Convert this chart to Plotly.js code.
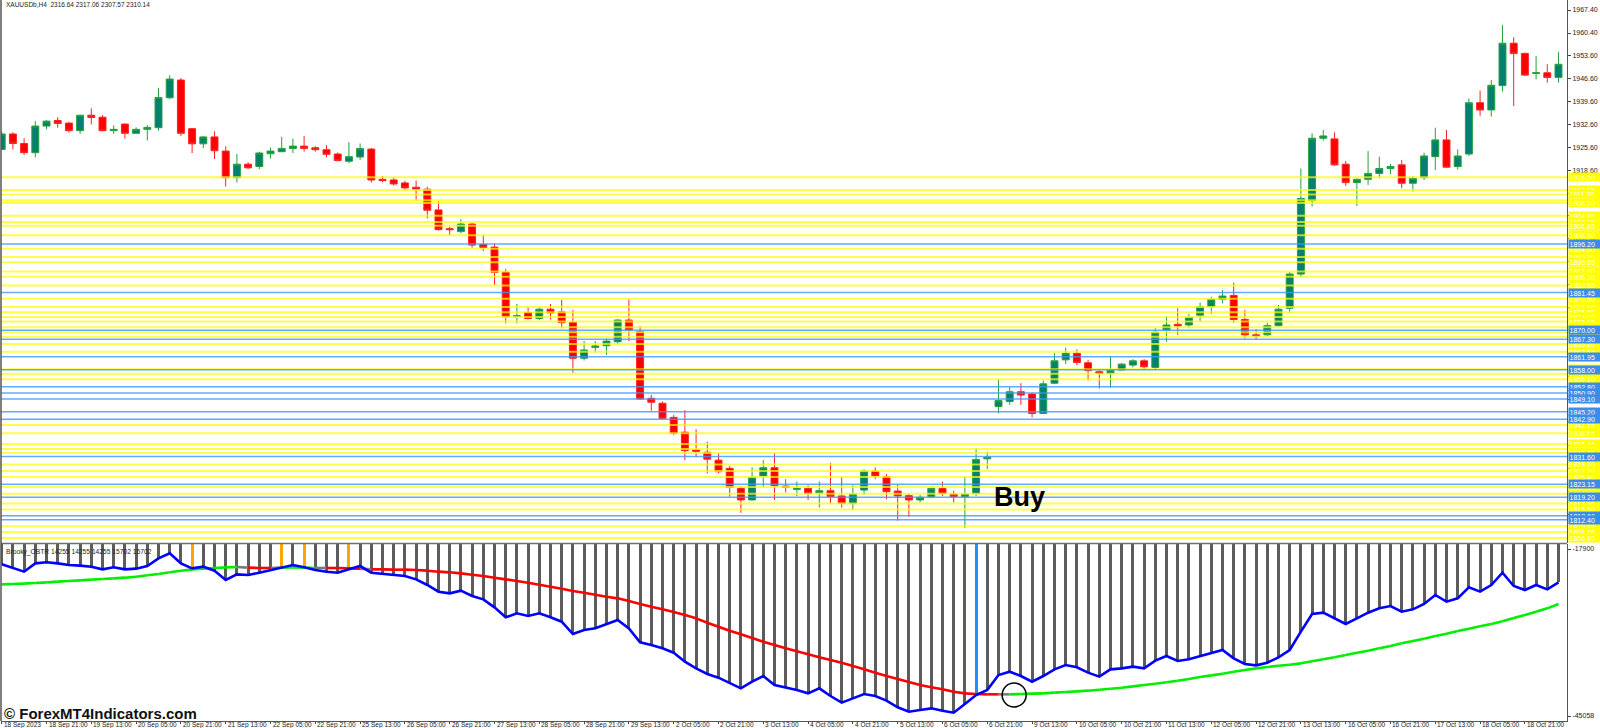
<!DOCTYPE html>
<html><head><meta charset="utf-8">
<script src="https://cdn.plot.ly/plotly-3.0.1.min.js"></script>
<style>html,body{margin:0;padding:0;background:#fff;overflow:hidden}#chart{width:1600px;height:728px}</style>
</head><body><div id="chart"></div>
<script>
const headerText = "XAUUSDb,H4  2316.64 2317.06 2307.57 2310.14";
const indicatorText = "Brooky_OBTR 14255 14255 14255 15702 15702";
const watermarkText = "© ForexMT4Indicators.com";

const timeLabels = ["18 Sep 2023","18 Sep 21:00","19 Sep 13:00","20 Sep 05:00","20 Sep 21:00","21 Sep 13:00","22 Sep 05:00","22 Sep 21:00","25 Sep 13:00","26 Sep 05:00","26 Sep 21:00","27 Sep 13:00","28 Sep 05:00","28 Sep 21:00","29 Sep 13:00","2 Oct 05:00","2 Oct 21:00","3 Oct 13:00","4 Oct 05:00","4 Oct 21:00","5 Oct 13:00","6 Oct 05:00","6 Oct 21:00","9 Oct 13:00","10 Oct 05:00","10 Oct 21:00","11 Oct 13:00","12 Oct 05:00","12 Oct 21:00","13 Oct 13:00","16 Oct 05:00","16 Oct 21:00","17 Oct 13:00","18 Oct 05:00","18 Oct 21:00"];
const barsPerLabel = 4;

const opens = [1925.0,1929.7,1926.8,1924.0,1932.1,1933.8,1933.0,1930.7,1935.4,1934.8,
1930.7,1932.7,1929.9,1931.1,1931.6,1940.7,1946.1,1931.3,1926.7,1928.8,
1924.5,1916.4,1920.5,1919.8,1923.7,1924.3,1925.3,1926.0,1925.5,1924.9,
1923.6,1921.4,1922.7,1925.1,1915.9,1915.7,1914.8,1913.5,1912.9,1906.6,
1900.9,1900.0,1902.3,1896.1,1895.3,1887.7,1874.2,1875.4,1873.6,1876.4,
1875.6,1872.4,1861.5,1864.8,1865.3,1866.5,1873.1,1869.6,1849.3,1847.8,
1843.5,1839.0,1833.6,1832.9,1830.5,1828.0,1821.9,1818.4,1825.7,1828.2,
1822.6,1821.6,1821.9,1820.6,1821.2,1819.6,1817.4,1821.4,1827.2,1825.5,
1821.1,1819.7,1818.4,1819.4,1821.9,1820.2,1819.4,1820.4,1830.9,1846.8,
1848.3,1851.3,1850.6,1844.7,1853.9,1861.0,1863.0,1860.1,1857.4,1856.9,
1857.9,1859.4,1860.7,1858.7,1870.1,1871.8,1871.6,1874.6,1877.2,1879.4,
1880.6,1873.3,1868.6,1868.6,1871.4,1876.7,1887.1,1909.4,1928.4,1928.2,
1920.5,1914.9,1915.9,1917.7,1919.2,1920.3,1914.7,1916.4,1922.8,1927.9,
1919.8,1923.6,1939.2,1937.0,1944.4,1957.3,1954.2,1948.1,1948.3,1946.9];
const highs = [1930.4,1930.2,1928.4,1933.6,1933.9,1934.8,1933.4,1935.5,1937.5,1935.4,
1932.3,1932.9,1931.7,1932.4,1943.7,1947.6,1946.7,1931.5,1929.0,1930.5,
1925.9,1923.6,1921.1,1924.3,1925.6,1928.8,1928.3,1929.1,1926.0,1926.3,
1924.1,1927.2,1926.8,1925.5,1916.9,1916.4,1915.4,1915.5,1913.6,1909.2,
1901.5,1903.8,1902.5,1899.0,1896.4,1888.6,1878.0,1877.0,1877.0,1878.0,
1879.2,1876.2,1866.7,1866.7,1867.5,1873.4,1879.4,1871.3,1850.3,1848.3,
1844.2,1845.7,1839.9,1836.1,1832.6,1828.7,1822.6,1828.3,1830.5,1832.6,
1824.7,1824.0,1822.9,1824.0,1829.7,1825.5,1822.9,1827.7,1828.3,1826.3,
1823.2,1820.4,1819.9,1822.4,1824.0,1821.2,1825.5,1834.1,1833.1,1855.1,
1852.8,1853.9,1851.0,1854.7,1863.0,1864.7,1864.2,1861.0,1857.9,1862.2,
1860.1,1861.2,1861.2,1870.6,1874.3,1876.7,1874.9,1878.4,1880.2,1882.2,
1884.5,1876.2,1870.3,1872.3,1877.7,1887.8,1919.2,1929.9,1930.9,1930.2,
1921.5,1916.2,1924.5,1922.8,1920.6,1921.8,1916.9,1924.0,1931.6,1930.9,
1925.0,1940.5,1942.9,1946.1,1962.8,1959.1,1954.4,1953.4,1950.9,1954.7];
const lows = [1924.8,1925.0,1923.3,1922.6,1931.1,1931.6,1930.1,1929.7,1932.6,1930.5,
1929.7,1928.3,1929.7,1927.7,1930.7,1940.3,1929.1,1923.9,1925.4,1922.1,
1913.7,1914.9,1919.0,1919.0,1922.2,1924.2,1923.9,1924.3,1924.3,1922.6,
1921.4,1920.8,1921.8,1914.9,1915.0,1914.0,1912.7,1909.4,1904.1,1900.3,
1898.8,1899.5,1895.1,1894.1,1883.8,1872.1,1872.1,1873.3,1873.1,1873.3,
1870.6,1857.1,1860.8,1863.2,1862.5,1865.7,1866.7,1848.8,1845.5,1842.9,
1838.1,1830.5,1831.4,1826.5,1826.5,1819.4,1814.5,1818.2,1822.2,1818.4,
1820.7,1819.6,1818.4,1816.1,1817.2,1816.1,1815.3,1819.9,1824.7,1818.6,
1812.1,1813.3,1817.6,1818.9,1819.6,1817.6,1809.8,1819.6,1827.8,1844.7,
1847.3,1847.3,1843.5,1844.5,1853.6,1859.7,1859.4,1854.7,1852.3,1852.6,
1857.7,1858.7,1857.9,1857.9,1866.5,1868.6,1870.6,1872.6,1874.9,1878.2,
1872.3,1867.5,1867.2,1868.3,1871.1,1875.2,1886.3,1907.6,1927.7,1920.0,
1913.9,1907.8,1914.2,1916.2,1917.5,1913.2,1912.2,1915.7,1918.7,1919.3,
1918.9,1923.0,1935.2,1935.0,1942.6,1938.2,1947.3,1946.3,1945.3,1945.3];
const closes = [1929.7,1926.8,1924.0,1932.1,1933.6,1932.9,1930.7,1935.4,1934.7,1930.7,
1931.1,1929.9,1931.1,1931.7,1940.8,1946.4,1929.9,1926.7,1928.8,1924.6,
1916.4,1920.5,1919.4,1923.9,1924.5,1925.3,1926.0,1925.3,1924.9,1923.5,
1921.6,1922.8,1925.3,1915.7,1915.5,1914.5,1913.3,1912.9,1906.5,1900.6,
1900.6,1902.3,1895.9,1895.2,1887.6,1874.1,1874.4,1873.6,1876.4,1875.3,
1872.3,1861.5,1864.0,1865.2,1866.7,1873.1,1870.1,1849.1,1848.1,1843.2,
1838.7,1833.4,1833.2,1830.8,1827.0,1822.2,1818.4,1825.3,1828.2,1822.7,
1822.2,1821.9,1820.4,1821.2,1819.4,1817.4,1820.2,1827.2,1825.7,1820.9,
1819.6,1818.4,1819.2,1821.9,1820.4,1819.4,1820.2,1830.7,1831.4,1848.6,
1851.3,1850.3,1844.7,1853.7,1860.7,1863.0,1860.2,1857.7,1856.9,1857.9,
1859.7,1860.7,1858.9,1869.4,1871.6,1871.3,1873.9,1877.2,1879.4,1880.4,
1873.3,1868.6,1868.3,1871.4,1876.4,1887.1,1910.1,1928.4,1929.1,1920.3,
1914.9,1915.9,1917.7,1919.2,1919.8,1914.7,1916.2,1923.0,1927.9,1919.6,
1923.0,1939.2,1937.0,1944.5,1957.3,1954.2,1947.6,1948.3,1946.9,1950.9];

const obtrValues = [-20394,-21044,-21586,-20231,-20068,-20231,-20502,-20610,-20773,-21207,
-20881,-21207,-21098,-20665,-19418,-18605,-20231,-21044,-20773,-21423,
-22941,-22020,-22128,-21749,-21315,-20881,-20502,-20881,-21315,-21586,
-21749,-21207,-20665,-21749,-21965,-22128,-22291,-22833,-23754,-24838,
-25109,-24675,-25543,-26085,-27385,-29011,-28361,-28795,-28361,-29011,
-29716,-31721,-31071,-30800,-30150,-29445,-30800,-33076,-33510,-34052,
-34757,-36220,-37304,-38225,-38822,-39743,-40556,-39472,-38551,-40014,
-40393,-40827,-41369,-40556,-41803,-42887,-42182,-41477,-41803,-42561,
-43645,-44350,-44079,-43808,-44187,-44513,-43103,-41640,-40827,-38388,
-37846,-38551,-39472,-38551,-37467,-36762,-37141,-38009,-38659,-37467,
-37304,-37033,-37304,-36057,-35299,-36112,-35841,-35299,-34757,-34323,
-35678,-36599,-36816,-36383,-35515,-34323,-31342,-28469,-28253,-29174,
-30095,-29174,-28253,-27548,-27169,-28090,-27711,-26843,-25380,-26464,
-25922,-24133,-24838,-23754,-21749,-23917,-24567,-23754,-24459,-23320];
const signalValues = [-23646,-23591,-23537,-23429,-23320,-23212,-23104,-22995,-22887,-22778,
-22670,-22562,-22399,-22182,-21965,-21694,-21423,-21207,-21098,-20990,
-20881,-20827,-20936,-20990,-20990,-20936,-20881,-20936,-20990,-20990,
-20990,-21044,-21098,-21207,-21207,-21261,-21261,-21315,-21423,-21586,
-21694,-21857,-22074,-22291,-22562,-22833,-23104,-23375,-23700,-24025,
-24350,-24730,-25001,-25326,-25651,-25922,-26356,-26843,-27277,-27711,
-28144,-28632,-29174,-29879,-30529,-31179,-31776,-32372,-32968,-33510,
-34052,-34540,-35028,-35515,-35949,-36383,-36925,-37467,-38009,-38551,
-39038,-39526,-40014,-40393,-40719,-41098,-41369,-41477,-41532,-41532,
-41532,-41477,-41423,-41369,-41261,-41152,-41044,-40935,-40773,-40610,
-40448,-40231,-40014,-39797,-39580,-39309,-39038,-38713,-38442,-38171,
-37846,-37575,-37304,-37087,-36870,-36708,-36491,-36166,-35841,-35515,
-35136,-34757,-34431,-34052,-33673,-33239,-32860,-32480,-32047,-31667,
-31234,-30854,-30475,-30095,-29662,-29120,-28632,-28090,-27548,-26843];
// G = rising (green), R = falling (red), N = neutral (gray); one letter per bar segment
const signalStates = "G".repeat(21) + "N" + "RR" + "N" + "GGG" + "N" + "RRR" + "N" +
  "R".repeat(56) + "N" + "G".repeat(50);
const orangeBars = [17, 25, 27, 31];
const blueBar = 87;

const yellowLevels = [1916.50,1912.65,1911.30,1909.55,1908.70,1904.80,1902.95,1901.80,1898.90,1894.80,1892.30,1890.65,1887.90,1886.30,1883.65,1879.60,1877.10,1875.50,1874.00,1872.65,1870.95,1869.40,1868.05,1865.80,1863.50,1858.15,1856.75,1855.10,1841.15,1838.65,1835.40,1833.90,1832.70,1829.20,1827.20,1825.40,1822.30,1820.30,1817.30,1815.50,1810.40,1808.65,1806.80];
const blueLevels = [1896.20,1881.45,1870.00,1867.30,1861.95,1858.00,1852.80,1850.90,1849.10,1845.20,1842.90,1831.60,1823.15,1819.20,1813.60,1812.40];

const mainTicks = [1967.40,1960.40,1953.60,1946.60,1939.60,1932.60,1925.60,1918.60,1911.60,1904.80,1897.80,1890.80,1883.80,1876.80,1869.80,1862.80,1855.80,1848.80,1841.80,1835.00,1828.00,1821.00,1814.00];
const indTicks = [-17900, -45058];

const buyMarker = {bar: 88.4, price: 1819.3, text: "Buy"};
const circleMarker = {bar: 90.4, value: -41640};

// ---------- build ----------
const n = opens.length;
const idx = opens.map((_, i) => i);

const candles = {
  type: 'candlestick', x: idx, open: opens, high: highs, low: lows, close: closes,
  xaxis: 'x', yaxis: 'y', whiskerwidth: 0, hoverinfo: 'skip',
  increasing: {line: {color: '#23a23a', width: 1}, fillcolor: '#067f73'},
  decreasing: {line: {color: '#ff2222', width: 1}, fillcolor: '#ff0000'}
};

const barColors = idx.map(i => orangeBars.includes(i) ? '#ffa500' : (i === blueBar ? '#1e90ff' : '#5c5c5c'));
const hist = {type: 'bar', x: idx, y: obtrValues, xaxis: 'x', yaxis: 'y2', width: 0.27,
  marker: {color: barColors, line: {width: 0}}, hoverinfo: 'skip'};

const blueLine = {type: 'scatter', mode: 'lines', x: idx, y: obtrValues, xaxis: 'x', yaxis: 'y2',
  line: {color: '#0000ff', width: 2.6}, hoverinfo: 'skip'};

function segs(state) {
  const xs = [], ys = [];
  for (let i = 0; i < n - 1; i++) {
    if (signalStates[i] === state) { xs.push(i, i + 1, null); ys.push(signalValues[i], signalValues[i + 1], null); }
  }
  return {xs, ys};
}
const sigColors = {G: '#00ee00', R: '#ff0000', N: '#7a7a7a'};
const sigTraces = ['N', 'G', 'R'].map(s => {
  const g = segs(s);
  return {type: 'scatter', mode: 'lines', x: g.xs, y: g.ys, xaxis: 'x', yaxis: 'y2',
    line: {color: sigColors[s], width: 2.6}, connectgaps: false, hoverinfo: 'skip'};
});

// geometry
const W = 1600, H = 728;
const mL = 1, mR = 33, mT = 0, mB = 7;
const plotH = H - mT - mB;
const mainBottomPx = 543, indTopPx = 544;
const mainDomain = [(plotH - mainBottomPx) / plotH, 1];
const indDomain = [0, (plotH - indTopPx) / plotH];

const shapes = [];
yellowLevels.forEach(lv => shapes.push({type: 'line', xref: 'paper', x0: 0, x1: 1, yref: 'y', y0: lv, y1: lv,
  line: {color: 'rgba(255,255,0,0.72)', width: 2}, layer: 'above'}));
blueLevels.forEach(lv => shapes.push({type: 'line', xref: 'paper', x0: 0, x1: 1, yref: 'y', y0: lv, y1: lv,
  line: {color: 'rgba(60,150,255,0.8)', width: 1.5}, layer: 'above'}));
shapes.push({type: 'line', xref: 'paper', x0: 0, x1: 1, yref: 'paper', y0: (mainDomain[0] + indDomain[1]) / 2, y1: (mainDomain[0] + indDomain[1]) / 2,
  line: {color: '#6f6f6f', width: 1.5}, layer: 'above'});
shapes.push({type: 'line', xref: 'paper', x0: 0, x1: 0, yref: 'paper', y0: 0, y1: 1, line: {color: '#555', width: 1.5}, layer: 'above'});
shapes.push({type: 'circle', xref: 'x', yref: 'y2', xsizemode: 'pixel', ysizemode: 'pixel',
  xanchor: circleMarker.bar, yanchor: circleMarker.value, x0: -12, x1: 12, y0: -12, y1: 12,
  line: {color: '#000', width: 1.5}, layer: 'above'});

const fam = 'Liberation Sans, Arial, sans-serif';
const smallFont = {family: fam, size: 7, color: '#222'};
const annotations = [];
annotations.push({xref: 'paper', yref: 'paper', x: 0.002, y: 1, xanchor: 'left', yanchor: 'top', yshift: 1,
  text: headerText, showarrow: false, font: {family: fam, size: 6.5, color: '#222'}});
annotations.push({xref: 'paper', yref: 'paper', x: 0.002, y: indDomain[1], xanchor: 'left', yanchor: 'top', yshift: -2,
  text: indicatorText, showarrow: false, font: {family: fam, size: 6.7, color: '#222'}});
annotations.push({xref: 'x', yref: 'y', x: buyMarker.bar, y: buyMarker.price, xanchor: 'left', yanchor: 'middle',
  text: '<b>' + buyMarker.text + '</b>', showarrow: false, font: {family: fam, size: 27, color: '#000'}});
annotations.push({xref: 'paper', yref: 'paper', x: 0, y: 0, xanchor: 'left', yanchor: 'bottom', yshift: -3, xshift: 1,
  text: '<b>' + watermarkText + '</b>', showarrow: false, font: {family: fam, size: 15, color: '#111'}});
timeLabels.forEach((t, k) => annotations.push({xref: 'x', yref: 'paper', x: k * barsPerLabel, y: 0,
  xanchor: 'left', yanchor: 'top', xshift: 1, yshift: 1, borderpad: 0, text: t, showarrow: false,
  font: {family: fam, size: 6.5, color: '#222'}}));
function levelLabel(lv, bg) {
  return {xref: 'paper', yref: 'y', x: 1, y: lv, xanchor: 'left', yanchor: 'middle', xshift: 1,
    text: lv.toFixed(2), showarrow: false, bgcolor: bg, borderpad: 0.5, width: 31, height: 7, align: 'left',
    font: {family: fam, size: 7, color: '#ffffff'}};
}
yellowLevels.forEach(lv => annotations.push(levelLabel(lv, '#ffff00')));
blueLevels.forEach(lv => annotations.push(levelLabel(lv, '#3a8ee8')));

const layout = {
  width: W, height: H, margin: {l: mL, r: mR, t: mT, b: mB, pad: 0},
  paper_bgcolor: '#ffffff', plot_bgcolor: '#ffffff', showlegend: false, hovermode: false,
  boxgap: 0.38, boxgroupgap: 0, bargap: 0,
  xaxis: {anchor: 'y2', range: [-0.0625, 139.76], rangeslider: {visible: false}, showgrid: false, zeroline: false,
    showline: true, linecolor: '#555', linewidth: 1, ticks: 'outside', ticklen: 2, tickcolor: '#444',
    tickvals: timeLabels.map((_, k) => k * barsPerLabel), showticklabels: false, fixedrange: true},
  yaxis: {domain: mainDomain, anchor: 'x', side: 'right', range: [1805.30, 1970.44], showgrid: false, zeroline: false,
    showline: true, linecolor: '#555', linewidth: 1, ticks: 'outside', ticklen: 3, tickcolor: '#444',
    tickvals: mainTicks, ticktext: mainTicks.map(v => v.toFixed(2)), tickfont: smallFont, fixedrange: true},
  yaxis2: {domain: indDomain, anchor: 'x', side: 'right', range: [-45867, -17087], showgrid: false, zeroline: false,
    showline: true, linecolor: '#555', linewidth: 1, ticks: 'outside', ticklen: 3, tickcolor: '#444',
    tickvals: indTicks, ticktext: indTicks.map(String), tickfont: smallFont, fixedrange: true},
  shapes: shapes, annotations: annotations
};

Plotly.newPlot('chart', [hist, ...sigTraces, blueLine, candles], layout, {staticPlot: true, displayModeBar: false});
</script>
</body></html>
